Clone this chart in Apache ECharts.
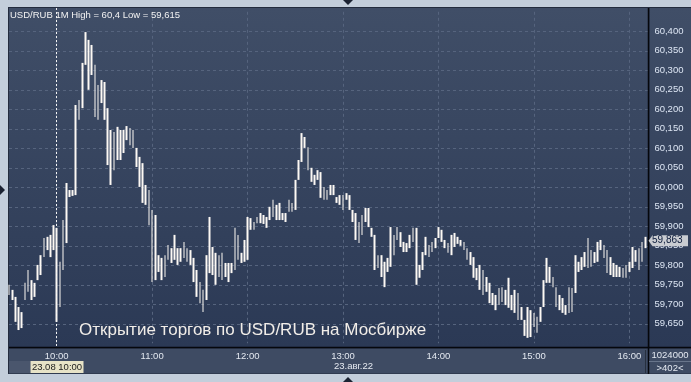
<!DOCTYPE html>
<html>
<head>
<meta charset="utf-8">
<script src="https://cdn.jsdelivr.net/npm/echarts@6/dist/echarts.min.js"></script>
<style>html,body{margin:0;padding:0;background:#c3cedb;}#c{width:691px;height:382px;}</style>
</head>
<body>
<div id="c"></div>
<script>
// 2-minute bars, 09:30 .. 16:10 (plus one empty slot at 16:12 for the right margin)
const START_MIN = 9 * 60 + 30;
const STEP_MIN = 2;
const SLOT_COUNT = 202;
const times = [];
for (let k = 0; k < SLOT_COUNT; k++) {
  const m = START_MIN + k * STEP_MIN;
  times.push(String(Math.floor(m / 60)).padStart(2, '0') + ':' + String(m % 60).padStart(2, '0'));
}

const highs = [
59.750,59.737,59.719,59.693,59.680,59.755,59.788,59.762,59.755,59.801,
59.826,59.870,59.873,59.878,59.903,59.896,59.809,59.916,60.011,59.993,
59.993,60.211,60.224,60.319,60.398,60.378,60.365,60.314,60.262,60.275,
60.270,60.203,60.147,60.142,60.155,60.147,60.147,60.157,60.152,60.147,
60.101,60.078,60.062,60.006,59.993,59.942,59.929,59.826,59.819,59.826,
59.852,59.844,59.878,59.844,59.844,59.860,59.844,59.839,59.819,59.788,
59.757,59.737,59.826,59.924,59.847,59.832,59.826,59.832,59.806,59.806,
59.806,59.896,59.878,59.832,59.865,59.924,59.921,59.911,59.924,59.934,
59.929,59.924,59.950,59.968,59.955,59.960,59.934,59.934,59.968,59.960,
60.019,60.070,60.139,60.129,60.103,60.050,60.032,60.044,60.039,60.001,
59.993,60.006,60.006,59.975,59.980,59.980,59.985,59.980,59.942,59.934,
59.911,59.929,59.947,59.947,59.896,59.878,59.826,59.826,59.809,59.819,
59.898,59.878,59.898,59.885,59.860,59.857,59.878,59.896,59.896,59.801,
59.834,59.873,59.852,59.860,59.870,59.898,59.891,59.865,59.857,59.878,
59.883,59.873,59.865,59.860,59.844,59.834,59.821,59.793,59.801,59.788,
59.770,59.755,59.729,59.724,59.742,59.744,59.737,59.768,59.724,59.737,
59.729,59.693,59.660,59.693,59.685,59.678,59.668,59.693,59.762,59.819,
59.796,59.770,59.744,59.724,59.716,59.698,59.744,59.742,59.826,59.809,
59.821,59.834,59.870,59.839,59.834,59.860,59.865,59.852,59.839,59.821,
59.806,59.801,59.796,59.793,59.801,59.809,59.847,59.839,59.844,59.860,
59.873];

const lows = [
59.724,59.711,59.655,59.634,59.639,59.711,59.732,59.711,59.719,59.762,
59.775,59.821,59.839,59.821,59.839,59.655,59.693,59.788,59.857,59.975,
59.978,59.980,60.173,60.203,60.314,60.250,60.288,60.180,60.173,60.216,
60.173,60.057,60.006,60.044,60.070,60.070,60.088,60.121,60.108,60.101,
60.052,60.001,59.960,59.955,59.903,59.757,59.762,59.783,59.762,59.770,
59.814,59.806,59.814,59.801,59.809,59.819,59.809,59.801,59.757,59.719,
59.703,59.680,59.711,59.780,59.775,59.750,59.770,59.762,59.770,59.757,
59.780,59.788,59.814,59.806,59.809,59.814,59.891,59.891,59.908,59.908,
59.906,59.896,59.916,59.924,59.916,59.916,59.916,59.911,59.937,59.937,
59.942,60.019,60.065,60.101,60.044,60.014,60.006,60.019,59.973,59.968,
59.968,59.980,59.980,59.960,59.955,59.942,59.968,59.942,59.911,59.865,
59.857,59.878,59.911,59.898,59.873,59.788,59.793,59.770,59.744,59.783,
59.796,59.826,59.865,59.847,59.834,59.834,59.844,59.860,59.750,59.768,
59.788,59.826,59.821,59.834,59.844,59.870,59.860,59.844,59.832,59.826,
59.847,59.855,59.850,59.839,59.814,59.801,59.768,59.762,59.737,59.724,
59.732,59.703,59.698,59.685,59.698,59.706,59.698,59.691,59.685,59.678,
59.660,59.660,59.619,59.614,59.616,59.642,59.627,59.655,59.693,59.755,
59.755,59.744,59.693,59.685,59.678,59.673,59.678,59.680,59.729,59.783,
59.788,59.796,59.793,59.796,59.806,59.809,59.839,59.819,59.780,59.775,
59.770,59.770,59.770,59.768,59.768,59.783,59.793,59.809,59.788,59.809,
59.844];

const lastPrice = 59.863;
const headerText = 'USD/RUB 1M High = 60,4 Low = 59,615';
const overlayText = 'Открытие торгов по USD/RUB на Мосбирже';
const crosshairTime = '10:00';
const crosshairLabel = '23.08 10:00';
const dateLabel = '23.авг.22';
const volumeLabel = '1024000';
const countLabel = '>402<';

const yTicks = { min: 59.60, max: 60.45, step: 0.05 };

const candles = lows.map((lo, i) => [lo, highs[i], lo, highs[i]]);
const hourOnly = (idx, v) => typeof v === 'string' && v.endsWith(':00');
const fmt = v => v.toFixed(3).replace('.', ',');

const chart = echarts.init(document.getElementById('c'), null, { renderer: 'canvas', width: 691, height: 382 });

const plotGrad = new echarts.graphic.LinearGradient(0, 0, 0, 1, [
  { offset: 0, color: '#404e67' }, { offset: 1, color: '#2b3955' }]);

function baseGraphics() {
  return [
    { type: 'rect', z: -20, shape: { x: 8, y: 7, width: 683, height: 367 }, style: { fill: '#232c3e' } },
    { type: 'rect', z: -19, shape: { x: 9, y: 8, width: 639.5, height: 339.5 }, style: { fill: plotGrad } },
    { type: 'rect', z: -19, shape: { x: 649.5, y: 8, width: 41.5, height: 339.5 }, style: { fill: plotGrad } },
    { type: 'rect', z: -19, shape: { x: 9, y: 348.5, width: 682, height: 25 }, style: { fill: '#3e4b63' } },
    { type: 'rect', z: -18, shape: { x: 9, y: 361, width: 21, height: 12 }, style: { fill: '#4a566d' } },
    { type: 'line', z: 50, shape: { x1: 9, y1: 347.5, x2: 691, y2: 347.5 }, style: { stroke: '#05070c', lineWidth: 1.5 } },
    { type: 'line', z: 50, shape: { x1: 648.5, y1: 8, x2: 648.5, y2: 374 }, style: { stroke: '#05070c', lineWidth: 1.5 } },
    { type: 'line', z: 50, shape: { x1: 645.5, y1: 350, x2: 645.5, y2: 373 }, style: { stroke: '#27303f', lineWidth: 1 } },
    { type: 'line', z: 50, shape: { x1: 649, y1: 361.5, x2: 691, y2: 361.5 }, style: { stroke: '#68758b', lineWidth: 1 } },
    { type: 'text', z: 60, style: { x: 670, y: 355, text: volumeLabel, fill: '#e4e9f1', font: '9.5px "Liberation Sans", Arial, sans-serif', align: 'center', verticalAlign: 'middle' } },
    { type: 'text', z: 60, style: { x: 670, y: 368, text: countLabel, fill: '#e4e9f1', font: '9.5px "Liberation Sans", Arial, sans-serif', align: 'center', verticalAlign: 'middle' } },
    { type: 'text', z: 60, style: { x: 334, y: 366.5, text: dateLabel, fill: '#e6eaf1', font: '9.5px "Liberation Sans", Arial, sans-serif', align: 'left', verticalAlign: 'middle' } },
    { type: 'text', z: 60, style: { x: 10, y: 15, text: headerText, fill: '#f2f2f2', font: '9.5px "Liberation Sans", Arial, sans-serif', align: 'left', verticalAlign: 'middle' } },
    { type: 'text', z: 60, style: { x: 79, y: 330, text: overlayText, fill: '#f1ede8', font: '17px "Liberation Sans", Arial, sans-serif', align: 'left', verticalAlign: 'middle' } },
    { type: 'polygon', z: 60, shape: { points: [[343, 0], [353, 0], [348, 5]] }, style: { fill: '#1b2232' } },
    { type: 'polygon', z: 60, shape: { points: [[343, 382], [353, 382], [348, 377]] }, style: { fill: '#1b2232' } },
    { type: 'polygon', z: 60, shape: { points: [[0, 185], [0, 195], [5, 190]] }, style: { fill: '#1b2232' } }
  ];
}

const option = {
  animation: false,
  backgroundColor: '#c3cedb',
  grid: { left: 9, right: 691 - 648.4, top: 11.8, bottom: 38.7, show: false },
  xAxis: {
    type: 'category', data: times, boundaryGap: false,
    axisLine: { show: false }, axisTick: { show: false },
    axisLabel: { interval: hourOnly, color: '#e3e8f0', fontSize: 9.5, fontFamily: 'Liberation Sans', margin: 8 },
    splitLine: { show: true, interval: hourOnly, lineStyle: { color: '#56647e', type: [3, 3], width: 1 } }
  },
  yAxis: {
    type: 'value', position: 'right', min: yTicks.min, max: yTicks.max, interval: yTicks.step,
    axisLine: { show: false }, axisTick: { show: false },
    axisLabel: { color: '#dde6f4', fontSize: 9.5, fontFamily: 'Liberation Sans', margin: 6, showMinLabel: false, showMaxLabel: false, formatter: fmt },
    splitLine: { show: true, showMinLine: false, showMaxLine: false, lineStyle: { color: '#56647e', type: [3, 3], width: 1 } }
  },
  series: [{
    type: 'candlestick', data: candles, barWidth: 2.2,
    itemStyle: { color: '#fdf9f4', color0: '#fdf9f4', borderColor: '#fdf9f4', borderColor0: '#fdf9f4', borderWidth: 0 }
  }],
  graphic: baseGraphics()
};
chart.setOption(option);

const cx = Math.round(chart.convertToPixel({ xAxisIndex: 0 }, crosshairTime)) - 0.5;
const py = chart.convertToPixel({ yAxisIndex: 0 }, lastPrice);
const extra = [
  { type: 'line', z: 55, shape: { x1: cx, y1: 8, x2: cx, y2: 347 }, style: { stroke: '#f4f4f4', lineWidth: 1, lineDash: [2, 2] } },
  { type: 'rect', z: 60, shape: { x: cx - 26, y: 361, width: 53, height: 12 }, style: { fill: '#e7e3c7' } },
  { type: 'text', z: 61, style: { x: cx + 0.5, y: 367, text: crosshairLabel, fill: '#1c1c1c', font: '9.5px "Liberation Sans", Arial, sans-serif', align: 'center', verticalAlign: 'middle' } },
  { type: 'polygon', z: 60, shape: { points: [[648.5, py], [652.5, py - 5.5], [688, py - 5.5], [688, py + 5.5], [652.5, py + 5.5]] }, style: { fill: '#c9ccd1' } },
  { type: 'text', z: 61, style: { x: 652, y: py, text: fmt(lastPrice), fill: '#0d1c3c', font: '10px "Liberation Sans", Arial, sans-serif', align: 'left', verticalAlign: 'middle' } }
];
chart.setOption({ graphic: baseGraphics().concat(extra) }, { replaceMerge: ['graphic'] });
</script>
</body>
</html>
